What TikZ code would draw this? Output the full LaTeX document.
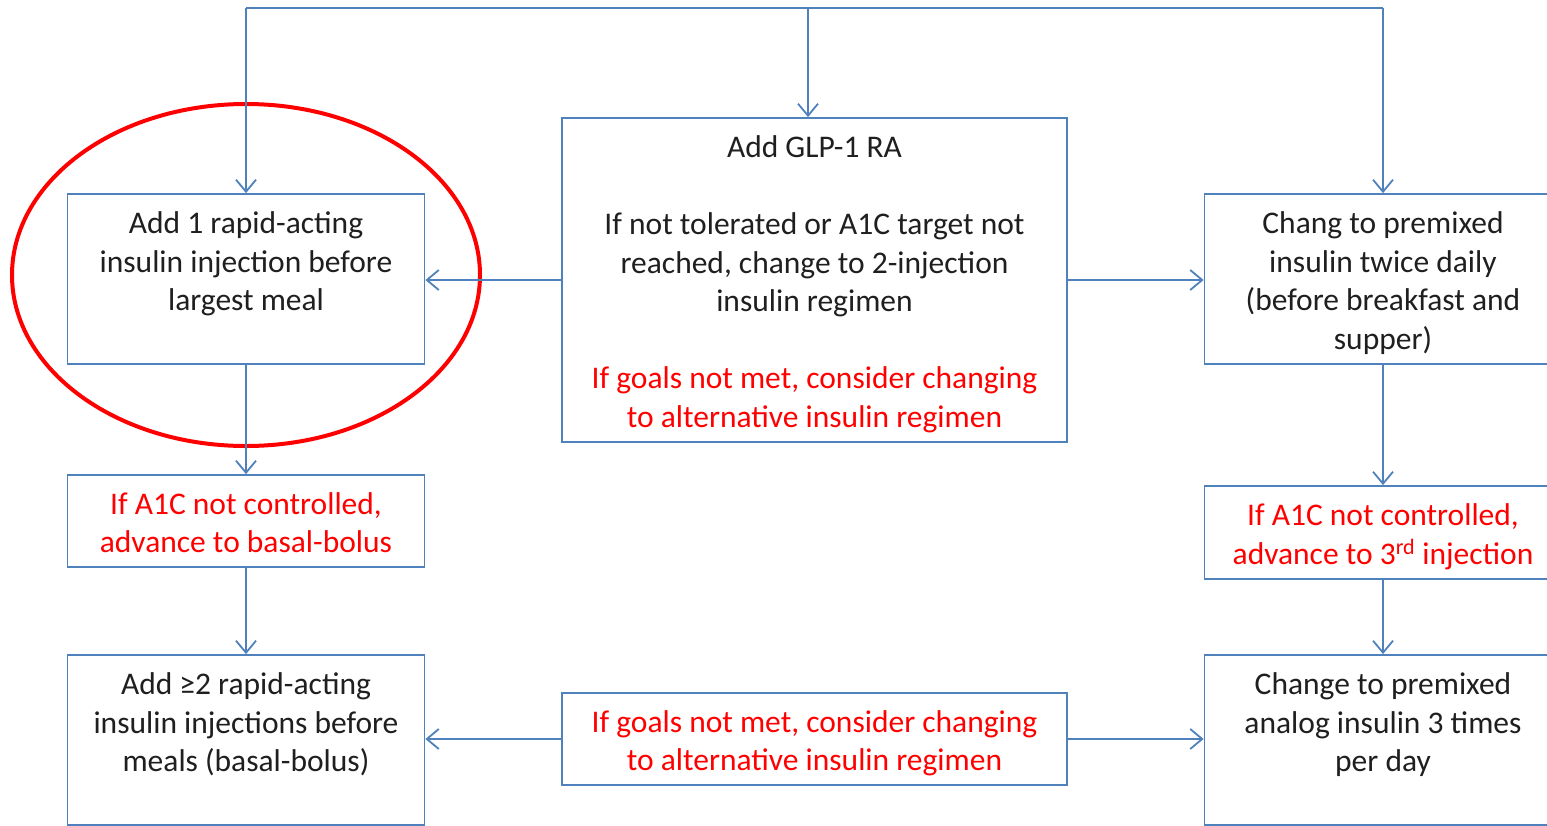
\documentclass[tikz,border=0pt]{standalone}
\usepackage{fontspec}
\setmainfont{Carlito}
\usetikzlibrary{arrows.meta,shapes.geometric}
\definecolor{lineblue}{HTML}{4F81BD}
\definecolor{txtred}{HTML}{FF0000}
\newcommand\stt{\rule[-7pt]{0pt}{38.5pt}}
\begin{document}
\begin{tikzpicture}[x=1pt,y=-1pt,
  box/.style={draw=lineblue, line width=1.8pt, align=center, inner sep=0pt,
    font=\fontsize{31.5}{38.5}\selectfont, text=black!88},
  conn/.style={draw=lineblue, line width=1.8pt},
  arr/.style={conn, -{Straight Barb[length=12pt,width=20pt]}},
  hl/.style={ellipse, draw=txtred, line width=4pt, inner sep=0pt}]
\useasboundingbox (0,0) rectangle (1547,825);
\fill[white] (0,0) rectangle (1547,825);

% boxes
\node[box, minimum width=357pt, minimum height=170pt] (A) at (246,279)
  {\stt Add 1 rapid-acting\\\stt insulin injection before\\\stt largest meal\\\stt};
\node[box, minimum width=505pt, minimum height=324pt] (G) at (814.5,280)
  {\stt Add GLP-1 RA\\\stt\\\stt If not tolerated or A1C target not\\\stt reached, change to 2-injection\\\stt insulin regimen\\\stt\\\stt\textcolor{txtred}{If goals not met, consider changing}\\\stt\textcolor{txtred}{to alternative insulin regimen}};
\node[box, minimum width=357pt, minimum height=170pt] (C) at (1383,279)
  {\stt Chang to premixed\\\stt insulin twice daily\\\stt (before breakfast and\\\stt supper)};
\node[box, minimum width=357pt, minimum height=92pt] (L2) at (246,521)
  {\stt\textcolor{txtred}{If A1C not controlled,}\\\stt\textcolor{txtred}{advance to basal-bolus}};
\node[box, minimum width=357pt, minimum height=93pt] (R2) at (1383,532.5)
  {\stt\textcolor{txtred}{If A1C not controlled,}\\\stt\textcolor{txtred}{advance to 3\textsuperscript{rd} injection}};
\node[box, minimum width=357pt, minimum height=170pt] (L3) at (246,740)
  {\stt Add ≥2 rapid-acting\\\stt insulin injections before\\\stt meals (basal-bolus)\\\stt};
\node[box, minimum width=357pt, minimum height=170pt] (R3) at (1383,740)
  {\stt Change to premixed\\\stt analog insulin 3 times\\\stt per day\\\stt};
\node[box, minimum width=505pt, minimum height=92pt] (B) at (814.5,739)
  {\stt\textcolor{txtred}{If goals not met, consider changing}\\\stt\textcolor{txtred}{to alternative insulin regimen}};

% highlight ellipse
\node[hl, minimum width=468pt, minimum height=342pt] (E) at (246,275) {};

% top distribution line
\coordinate (tl) at (246,8);
\coordinate (tm) at (808,8);
\coordinate (tr) at (1383,8);
\draw[conn] (tl) -- (tr);
\draw[arr] (tl) -- (tl |- A.north);
\draw[arr] (tm) -- (tm |- G.north);
\draw[arr] (tr) -- (tr |- C.north);

% horizontal arrows
\draw[arr] (G.west) -- (G.west -| A.east);
\draw[arr] (G.east) -- (G.east -| C.west);
\draw[arr] (B.west) -- (B.west -| L3.east);
\draw[arr] (B.east) -- (B.east -| R3.west);

% vertical arrows
\draw[arr] (A.south) -- (L2.north);
\draw[arr] (L2.south) -- (L3.north);
\draw[arr] (C.south) -- (R2.north);
\draw[arr] (R2.south) -- (R3.north);
\end{tikzpicture}
\end{document}
